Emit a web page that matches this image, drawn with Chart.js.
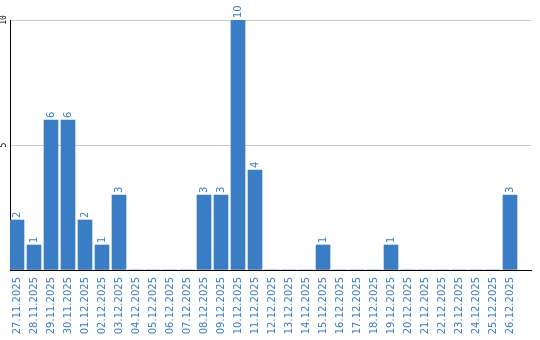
<!DOCTYPE html>
<html>
<head>
<meta charset="utf-8">
<script src="https://cdn.jsdelivr.net/npm/chart.js@4/dist/chart.umd.min.js"></script>
<style>
html,body{margin:0;padding:0;background:#fff;}
canvas{display:block;}
</style>
</head>
<body>
<canvas id="c" width="540" height="340"></canvas>
<script>
const labels = ['27.11.2025','28.11.2025','29.11.2025','30.11.2025','01.12.2025','02.12.2025','03.12.2025','04.12.2025','05.12.2025','06.12.2025','07.12.2025','08.12.2025','09.12.2025','10.12.2025','11.12.2025','12.12.2025','13.12.2025','14.12.2025','15.12.2025','16.12.2025','17.12.2025','18.12.2025','19.12.2025','20.12.2025','21.12.2025','22.12.2025','23.12.2025','24.12.2025','25.12.2025','26.12.2025'];
const values = [2,1,6,6,2,1,3,0,0,0,0,3,3,10,4,0,0,0,1,0,0,0,1,0,0,0,0,0,0,3];
const yTicks = [0,5,10];

const BLUE = '#3b7dc4';

const valueLabels = {
  id: 'valueLabels',
  afterDatasetsDraw(chart) {
    const ctx = chart.ctx;
    const meta = chart.getDatasetMeta(0);
    ctx.save();
    ctx.font = '10px "DejaVu Sans"';
    ctx.fillStyle = BLUE;
    meta.data.forEach((bar, i) => {
      const v = values[i];
      if (!v) return;
      ctx.save();
      ctx.translate(bar.x, bar.y - 2);
      ctx.rotate(-Math.PI / 2);
      ctx.textAlign = 'left';
      ctx.textBaseline = 'middle';
      ctx.fillText(String(v), 0, 0);
      ctx.restore();
    });
    ctx.restore();
  }
};

new Chart(document.getElementById('c'), {
  type: 'bar',
  data: {
    datasets: [{
      data: values.map((v, i) => ({x: i, y: v})),
      backgroundColor: BLUE,
      borderWidth: 0,
      barThickness: 14
    }]
  },
  options: {
    responsive: false,
    animation: false,
    layout: {padding: {top: 20, right: 9, left: 0, bottom: 0}},
    plugins: {legend: {display: false}, tooltip: {enabled: false}},
    scales: {
      x: {
        type: 'linear',
        offset: false,
        min: -7 / 17,
        max: 30 + 4 / 17,
        afterFit(s) { s.height = 70; s.paddingLeft = 0; s.paddingRight = 0; },
        grid: {display: false, drawTicks: false, offset: false},
        border: {display: true, color: '#000', width: 1},
        ticks: {
          stepSize: 1,
          autoSkip: false,
          includeBounds: false,
          minRotation: 90,
          maxRotation: 90,
          padding: 7,
          color: BLUE,
          font: {family: 'DejaVu Sans', size: 10},
          callback: (v) => (Number.isInteger(v) && labels[v] !== undefined) ? labels[v] : ''
        }
      },
      y: {
        min: yTicks[0],
        max: yTicks[yTicks.length - 1],
        afterFit(s) { s.width = 10; },
        afterBuildTicks(s) { s.ticks = yTicks.map(v => ({value: v})); },
        grid: {color: '#c8c8c8', drawTicks: false, lineWidth: 1},
        border: {display: true, color: '#000', width: 1},
        ticks: {
          minRotation: 90,
          maxRotation: 90,
          crossAlign: 'center',
          padding: 1,
          color: '#000',
          font: {family: 'DejaVu Sans Mono', size: 8},
          callback: (v) => v === 0 ? '' : String(v)
        }
      }
    }
  },
  plugins: [valueLabels]
});
</script>
</body>
</html>
